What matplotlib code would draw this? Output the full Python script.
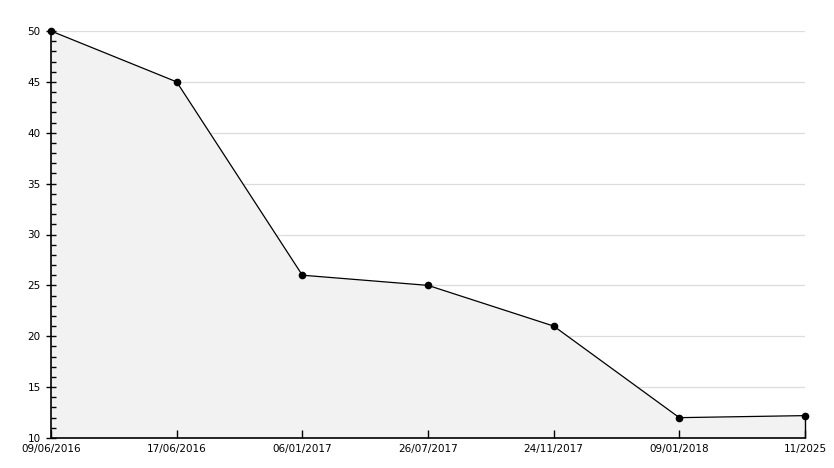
import matplotlib
matplotlib.use("Agg")
import matplotlib.pyplot as plt
from matplotlib.ticker import MultipleLocator

# datos
fechas = ["09/06/2016", "17/06/2016", "06/01/2017", "26/07/2017",
          "24/11/2017", "09/01/2018", "11/2025"]
valores = [50, 45, 26, 25, 21, 12, 12.2]
y_min, y_max = 10, 50

W, H = 834, 468
fig = plt.figure(figsize=(W / 100, H / 100), dpi=100)
ax = fig.add_axes([51 / W, (H - 438) / H, (805 - 51) / W, (438 - 31) / H])

x = list(range(len(fechas)))

# rejilla a mano, debajo del relleno
for yv in range(y_min + 5, y_max + 1, 5):
    ax.axhline(yv, color="#dddddd", lw=0.9, zorder=0)

ax.fill_between(x, valores, y_min, color="#f2f2f2", lw=0, zorder=1)
ax.plot(x, valores, color="black", lw=0.9, marker="o", ms=4.5,
        clip_on=False, zorder=5)
ax.vlines(x[-1], y_min, valores[-1], color="black", lw=1.0,
          clip_on=False, zorder=4)

ax.set_xlim(0, len(fechas) - 1)
ax.set_ylim(y_min, y_max)
ax.set_xticks(x)
ax.set_xticklabels(fechas)
ax.yaxis.set_major_locator(MultipleLocator(5))
ax.yaxis.set_minor_locator(MultipleLocator(1))

for s in ("top", "right"):
    ax.spines[s].set_visible(False)
for s in ("left", "bottom"):
    ax.spines[s].set_linewidth(1.2)
    ax.spines[s].set_zorder(4)

ax.tick_params(axis="y", which="major", direction="inout", length=7, width=1,
               labelsize=7.5, pad=4)
ax.tick_params(axis="y", which="minor", direction="in", length=3.5, width=1)
ax.tick_params(axis="x", which="major", direction="in", length=6, width=1,
               labelsize=7.5, pad=4)

fig.savefig("out.png", dpi=100)
